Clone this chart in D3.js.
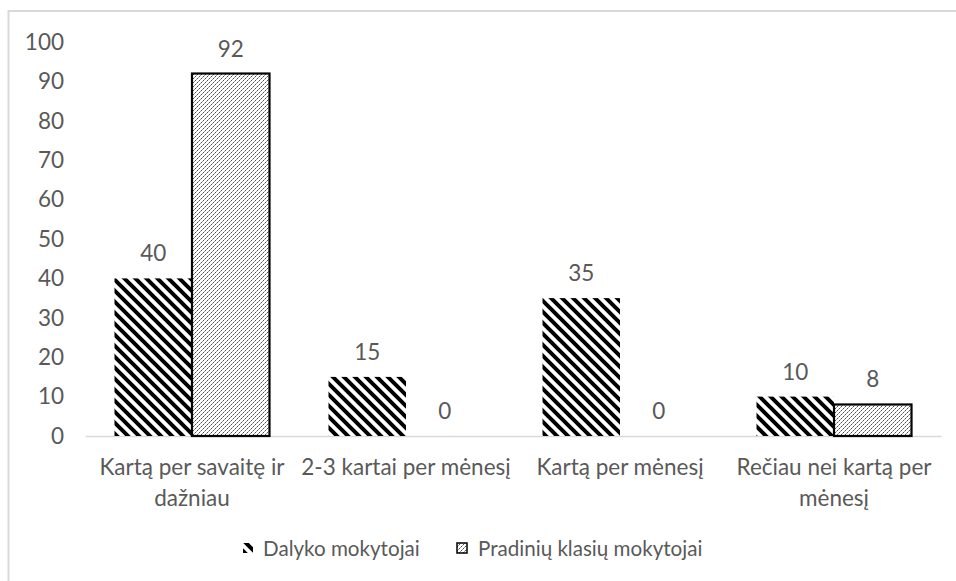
<!DOCTYPE html>
<html><head><meta charset="utf-8">
<script src="https://cdn.jsdelivr.net/npm/d3@7"></script>
<style>body{margin:0;background:#fff}svg{display:block}</style>
</head><body><svg id="c" width="956" height="581"></svg>
<script>
const categories = ["Kartą per savaitę ir\ndažniau", "2-3 kartai per mėnesį", "Kartą per mėnesį", "Rečiau nei kartą per\nmėnesį"];
const seriesNames = ["Dalyko mokytojai", "Pradinių klasių mokytojai"];
const dalyko = [40, 15, 35, 10];
const pradiniu = [92, 0, 0, 8];
const yTicks = [0, 10, 20, 30, 40, 50, 60, 70, 80, 90, 100];

const svg = d3.select("#c");
const FONT = "Lato, 'Open Sans', sans-serif";
const FS = 22.5;
const TXT = "#595959";
const defs = svg.append("defs");
const P = 11;
const p1 = defs.append("pattern").attr("id","pat1").attr("patternUnits","userSpaceOnUse")
  .attr("width",P).attr("height",P);
p1.append("rect").attr("width",P).attr("height",P).attr("fill","#fff");
p1.append("path").attr("d",`M-3,-3 L${P+3},${P+3} M-3,${P-3} L3,${P+3} M${P-3},-3 L${P+3},3`).attr("stroke","#000").attr("stroke-width",4);
const p2 = defs.append("pattern").attr("id","pat2").attr("patternUnits","userSpaceOnUse")
  .attr("width",4).attr("height",4);
p2.append("rect").attr("width",4).attr("height",4).attr("fill","#fff");
p2.append("path").attr("d","M-1,5 L5,-1 M-1,1 L1,-1 M3,5 L5,3").attr("stroke","#444").attr("stroke-width",0.95)
  .attr("stroke-dasharray","2.2,0.6");

svg.append("rect").attr("x",8.5).attr("y",11).attr("width",1000).attr("height",1000)
  .attr("fill","none").attr("stroke","#d9d9d9").attr("stroke-width",2);

const y = d3.scaleLinear().domain([0,100]).range([436,42]);
const x0 = d3.scaleBand().domain(categories).range([85,941]).paddingInner(0.2757).paddingOuter(0.1378);
const x1 = d3.scaleBand().domain(seriesNames).range([0,x0.bandwidth()]);

const yAxis = d3.axisLeft(y).tickValues(yTicks).tickSize(0).tickPadding(0);
const yg = svg.append("g").attr("transform","translate(64,0)").call(yAxis);
yg.select(".domain").remove();
yg.selectAll("text").attr("font-family",FONT).attr("font-size",FS).attr("fill",TXT);

const xAxis = d3.axisBottom(x0).tickSize(0).tickFormat("");
const xg = svg.append("g").attr("transform","translate(0,436)").call(xAxis);
xg.select(".domain").attr("stroke","#d9d9d9").attr("stroke-width",1.5);

const series = [{name:seriesNames[0], vals:dalyko, fill:"url(#pat1)", stroke:"none"},
                {name:seriesNames[1], vals:pradiniu, fill:"url(#pat2)", stroke:"#000"}];
series.forEach(s=>{
  const g = svg.append("g");
  g.selectAll("rect").data(categories).join("rect")
    .attr("x",(c)=>x0(c)+x1(s.name))
    .attr("y",(c,i)=>y(s.vals[i]))
    .attr("width",x1.bandwidth())
    .attr("height",(c,i)=>y(0)-y(s.vals[i]))
    .attr("fill",s.fill).attr("stroke",s.stroke).attr("stroke-width",2.2);
  g.selectAll("text").data(categories).join("text")
    .attr("x",(c)=>x0(c)+x1(s.name)+x1.bandwidth()/2)
    .attr("y",(c,i)=>y(s.vals[i])-17)
    .attr("text-anchor","middle").attr("font-family",FONT).attr("font-size",FS).attr("fill",TXT)
    .text((c,i)=>s.vals[i]);
});

categories.forEach(c=>{
  const lines = c.split("\n");
  const t = svg.append("text").attr("text-anchor","middle").attr("font-family",FONT)
    .attr("font-size",FS).attr("fill",TXT);
  lines.forEach((l,i)=>t.append("tspan").attr("x",x0(c)+x0.bandwidth()/2).attr("y",475+i*31).text(l));
});

const leg = [{x:243, tx:263}, {x:457, tx:478}];
series.forEach((s,i)=>{
  svg.append("rect").attr("x",leg[i].x).attr("y",543).attr("width",10).attr("height",10)
    .attr("fill",s.fill).attr("stroke",i==1?"#000":"none").attr("stroke-width",1.5);
  svg.append("text").attr("x",leg[i].tx).attr("y",556).attr("font-family",FONT).attr("font-size",20.6)
    .attr("fill",TXT).text(s.name);
});
</script></body></html>
